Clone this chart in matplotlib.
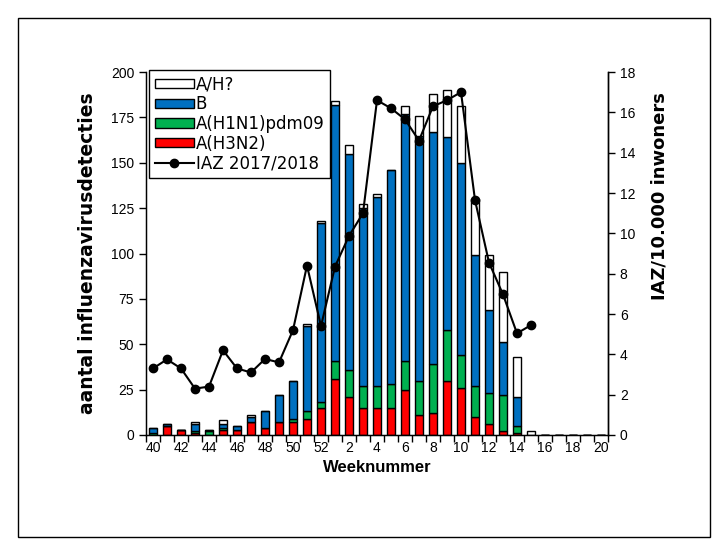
import matplotlib.pyplot as plt
import numpy as np
from matplotlib.patches import Rectangle

plt.rcParams["font.family"] = ["Liberation Sans", "DejaVu Sans"]

weeks = [40, 41, 42, 43, 44, 45, 46, 47, 48, 49, 50, 51, 52,
         1, 2, 3, 4, 5, 6, 7, 8, 9, 10, 11, 12, 13, 14, 15, 16, 17, 18, 19, 20]
h3n2 = [0, 5, 3, 1, 0, 3, 3, 7, 4, 7, 7, 9, 15,
        31, 21, 15, 15, 15, 25, 11, 12, 30, 26, 10, 6, 2, 1, 0, 0, 0, 0, 0, 0]
h1n1 = [1, 0, 0, 1, 2, 1, 0, 0, 0, 0, 2, 4, 3,
        10, 15, 12, 12, 13, 16, 19, 27, 28, 18, 17, 17, 20, 4, 0, 0, 0, 0, 0, 0]
flu_b = [3, 1, 0, 4, 1, 2, 2, 3, 9, 15, 21, 47, 99,
         141, 119, 98, 104, 118, 136, 135, 128, 106, 106, 72, 46, 29, 16, 0, 0, 0, 0, 0, 0]
a_unk = [0, 0, 0, 1, 0, 2, 0, 1, 0, 0, 0, 1, 1,
         2, 5, 2, 2, 0, 4, 11, 21, 26, 31, 31, 30, 39, 22, 2, 0, 0, 0, 0, 0]
iaz = [3.3, 3.75, 3.3, 2.3, 2.4, 4.2, 3.3, 3.1, 3.77, 3.6, 5.2, 8.4, 5.4,
       8.35, 9.87, 11.0, 16.6, 16.2, 15.65, 14.6, 16.3, 16.6, 17.0, 11.65, 8.55, 6.97, 5.04, 5.45]

x = np.arange(len(weeks))
w = 0.6
ec = dict(edgecolor="black", linewidth=1.0)

fig = plt.figure(figsize=(7.28, 5.54), dpi=100)
fig.patches.append(Rectangle((18 / 728, 17 / 554), 692 / 728, 519 / 554, transform=fig.transFigure,
                             fill=False, edgecolor="black", linewidth=1.0))
ax = fig.add_axes([146 / 728, 119 / 554, 462 / 728, 363 / 554])

h3 = np.array(h3n2)
h1 = np.array(h1n1)
b = np.array(flu_b)
u = np.array(a_unk)
bar_h3 = ax.bar(x, h3, w, color="#FF0000", **ec)
bar_h1 = ax.bar(x, h1, w, bottom=h3, color="#00B050", **ec)
bar_b = ax.bar(x, b, w, bottom=h3 + h1, color="#0070C0", **ec)
bar_u = ax.bar(x, u, w, bottom=h3 + h1 + b, color="white", **ec)

ax.set_xlim(-0.5, len(weeks) - 0.5)
ax.set_ylim(0, 200)
ax.set_yticks(np.arange(0, 201, 25))
ax.set_xticks(np.arange(-0.5, len(weeks), 1))
ax.set_xticklabels([])
ax.set_xticks(x[::2], minor=True)
ax.set_xticklabels([str(v) for v in weeks[::2]], minor=True)
ax.tick_params(axis="x", which="major", direction="out", length=5, width=1)
ax.tick_params(axis="x", which="minor", length=0, labelsize=10, pad=4)
ax.tick_params(axis="y", direction="out", length=5, width=1, labelsize=10)
ax.spines["top"].set_visible(False)
for s in ("left", "bottom", "right"):
    ax.spines[s].set_linewidth(1.0)
ax.set_xlabel("Weeknummer", fontsize=12, fontweight="bold", labelpad=4)
ax.set_ylabel("aantal influenzavirusdetecties", fontsize=13.5, fontweight="bold",
              family="DejaVu Sans")
ax.yaxis.set_label_coords(-0.106, 0.5)

ax2 = ax.twinx()
line, = ax2.plot(x[:len(iaz)], iaz, color="black", linewidth=1.5, marker="o", markersize=6)
ax2.set_ylim(0, 18)
ax2.set_yticks(np.arange(0, 19, 2))
ax2.tick_params(axis="y", direction="out", length=5, width=1, labelsize=10)
ax2.spines["top"].set_visible(False)
ax2.spines["right"].set_linewidth(1.0)
ax2.set_ylabel("IAZ/10.000 inwoners", fontsize=13, fontweight="bold", family="DejaVu Sans")
ax2.yaxis.set_label_coords(1.093, 0.658)

leg = ax2.legend([bar_u, bar_b, bar_h1, bar_h3, line],
                 ["A/H?", "B", "A(H1N1)pdm09", "A(H3N2)", "IAZ 2017/2018"],
                 loc="upper left", bbox_to_anchor=(0.006, 1.006),
                 prop={"family": "DejaVu Sans", "size": 12},
                 frameon=True, fancybox=False, edgecolor="black", framealpha=1,
                 handlelength=2.35, handleheight=0.5, handletextpad=0.12,
                 labelspacing=0.1, borderpad=0.35, borderaxespad=0)
leg.get_frame().set_linewidth(1.0)

fig.savefig("out.png", dpi=100)
